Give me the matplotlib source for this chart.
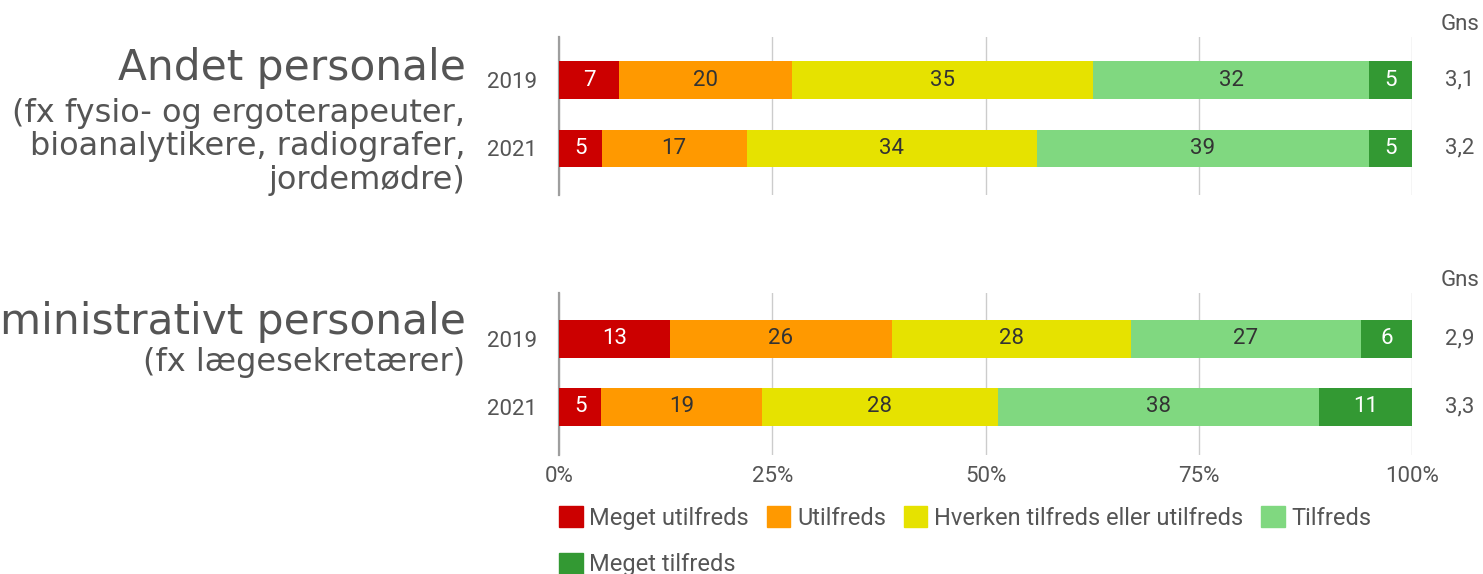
import matplotlib
matplotlib.use("Agg")
import matplotlib.pyplot as plt
from matplotlib.patches import Patch
from matplotlib.transforms import blended_transform_factory

plt.rcParams['font.family'] = ['Roboto', 'DejaVu Sans']

# data
categories = ['Meget utilfreds', 'Utilfreds', 'Hverken tilfreds eller utilfreds',
              'Tilfreds', 'Meget tilfreds']
colors = ['#cc0000', '#ff9900', '#e6e200', '#80d880', '#339933']
label_colors = ['white', '#333333', '#333333', '#333333', 'white']
years = ['2019', '2021']

groups = ['Andet personale', 'Administrativt personale']
subtitles = ['(fx fysio- og ergoterapeuter,\nbioanalytikere, radiografer,\njordemødre)',
             '(fx lægesekretærer)']
values = [
    [[7, 20, 35, 32, 5], [5, 17, 34, 39, 5]],
    [[13, 26, 28, 27, 6], [5, 19, 28, 38, 11]],
]
gns = [['3,1', '3,2'], ['2,9', '3,3']]
ticks = [0, 25, 50, 75, 100]
tick_labels = ['0%', '25%', '50%', '75%', '100%']

W, H = 1483, 574
fig = plt.figure(figsize=(W / 100, H / 100), dpi=100)
txt = '#555555'
fs = 16

# axes boxes in pixels: (top, bottom) and ylim
boxes = [(37, 195, (1.69, -0.632)), (293, 455, (1.706, -0.676))]
x0, x1 = 559, 1412
for g, (top, bot, ylim) in enumerate(boxes):
    ax = fig.add_axes([x0 / W, 1 - bot / H, (x1 - x0) / W, (bot - top) / H])
    for i, row in enumerate(values[g]):
        total = sum(row)
        left = 0
        for k, v in enumerate(row):
            w = v / total * 100
            bars = ax.barh(i, w, left=left, height=0.545, color=colors[k], zorder=3)
            ax.bar_label(bars, labels=[str(v)], label_type='center',
                         color=label_colors[k], fontsize=fs)
            left += w
    ax.set_xlim(0, 100)
    ax.set_ylim(*ylim)
    ax.set_yticks(range(len(years)))
    ax.set_yticklabels(years, fontsize=fs, color=txt)
    ax.tick_params(axis='y', length=0, pad=16)
    ax.set_xticks(ticks)
    for s in ['top', 'right', 'bottom']:
        ax.spines[s].set_visible(False)
    ax.spines['left'].set_color('#9e9e9e')
    ax.spines['left'].set_linewidth(1.6)
    ax.grid(axis='x', color='#cccccc', linewidth=1, zorder=0)
    ax.set_axisbelow(True)
    if g == 0:
        ax.tick_params(axis='x', length=0, labelbottom=False)
    else:
        ax.set_xticklabels(tick_labels, fontsize=fs, color=txt)
        ax.tick_params(axis='x', length=0, pad=8)

    # Gns column
    tr = blended_transform_factory(fig.transFigure, ax.transData)
    ax.text(1460 / W, 1 - (top - 13) / H, 'Gns', transform=fig.transFigure,
            ha='center', va='center', fontsize=fs, color=txt)
    for i, val in enumerate(gns[g]):
        ax.text(1460 / W, i, val, transform=tr, ha='center', va='center',
                fontsize=fs, color=txt)

# group titles (the long second title runs past the left edge, as in the original)
tfont = 'DejaVu Sans'
fig.text(466 / W, 1 - 68 / H, groups[0], ha='right', va='center', fontsize=30.4,
         color=txt, family=tfont)
fig.text(465 / W, 1 - 147 / H, subtitles[0], ha='right', va='center', fontsize=23,
         color=txt, linespacing=1.09, family=tfont)
fig.text(466 / W, 1 - 322 / H, groups[1], ha='right', va='center', fontsize=30.4,
         color=txt, family=tfont)
fig.text(465 / W, 1 - 362 / H, subtitles[1], ha='right', va='center', fontsize=23,
         color=txt, family=tfont)

# legend: reorder so first row holds four items, second row the last one
order = [0, 4, 1, 2, 3]
handles = [Patch(facecolor=colors[k], edgecolor=colors[k]) for k in order]
labels = [categories[k] for k in order]
leg = fig.legend(handles, labels, ncol=4, loc='upper left',
                 bbox_to_anchor=(559 / W, 1 - 506 / H), frameon=False,
                 fontsize=17, handlelength=1.0, handleheight=1.0,
                 handletextpad=0.28, columnspacing=0.76, labelspacing=0.97,
                 borderpad=0, borderaxespad=0)
for t in leg.get_texts():
    t.set_color(txt)

fig.savefig('out.png', dpi=100)
